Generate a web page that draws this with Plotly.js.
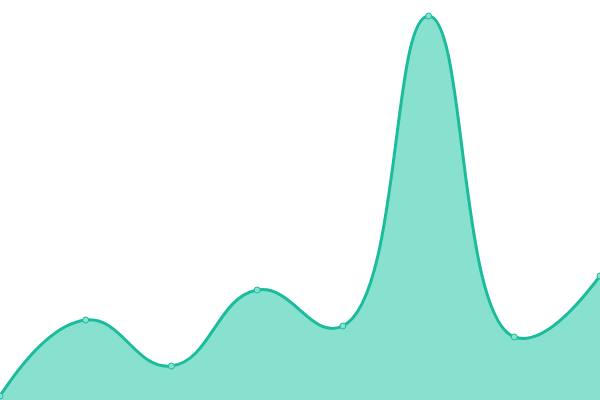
<!DOCTYPE html>
<html>
<head>
<meta charset="utf-8">
<script src="https://cdn.plot.ly/plotly-3.0.1.min.js"></script>
<style>html,body{margin:0;padding:0;background:#fff;}#chart{width:600px;height:400px;}</style>
</head>
<body>
<div id="chart"></div>
<script>
const categories = [0, 1, 2, 3, 4, 5, 6, 7];
const values = [4, 80, 34, 110, 74, 384, 63, 124];

const trace = {
  x: categories,
  y: values,
  type: 'scatter',
  mode: 'lines+markers',
  fill: 'tozeroy',
  fillcolor: '#88e0cf',
  line: {shape: 'spline', smoothing: 1.3, color: '#1abc9c', width: 3},
  marker: {size: 6, color: '#88e0cf', line: {color: '#1abc9c', width: 1}},
  hoverinfo: 'none'
};

const layout = {
  width: 600, height: 400,
  margin: {l: 0, r: 0, t: 0, b: 0, pad: 0},
  paper_bgcolor: '#ffffff', plot_bgcolor: '#ffffff',
  showlegend: false,
  xaxis: {range: [0, 7], visible: false, showgrid: false, zeroline: false, fixedrange: true},
  yaxis: {range: [0, 400], visible: false, showgrid: false, zeroline: false, fixedrange: true}
};

Plotly.newPlot('chart', [trace], layout, {staticPlot: true, displayModeBar: false});
</script>
</body>
</html>
